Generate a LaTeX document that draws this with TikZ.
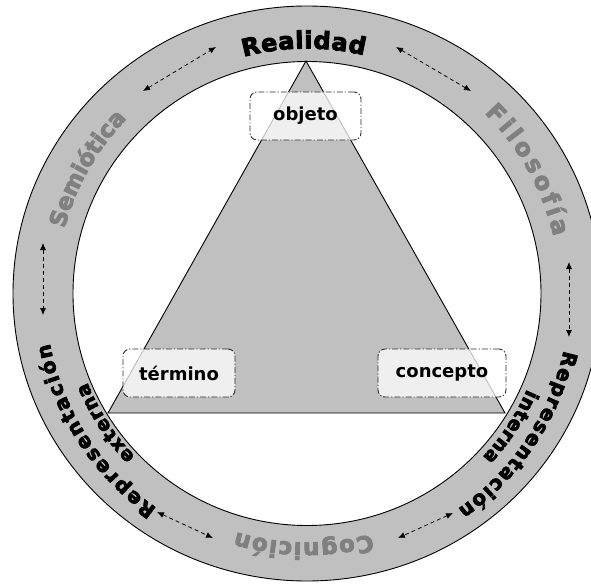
\documentclass[tikz,border=0pt]{standalone}
\usepackage{fontspec}
\setmainfont{DejaVu Sans}
\newfontfamily\heavyfont{DejaVu Sans}[BoldFeatures={FakeBold=3.5}]
\usetikzlibrary{arrows.meta,decorations.text}
\definecolor{ringgray}{RGB}{192,192,192}
\definecolor{labelgray}{RGB}{128,128,128}
\definecolor{boxline}{RGB}{45,45,45}
\newcommand{\ringfont}[1]{\heavyfont\bfseries\fontsize{#1}{#1}\selectfont}

\begin{document}
\begin{tikzpicture}[x=1pt,y=1pt,
  termbox/.style={draw=boxline,line width=0.9pt,dash pattern=on 6pt off 2pt on 1.2pt off 2pt,
    rounded corners=7pt,fill=white,fill opacity=0.75,text opacity=1,minimum height=48pt,
    font=\bfseries\fontsize{18}{18}\selectfont},
  dblarrow/.style={{Latex[length=7pt,width=6pt]}-{Latex[length=7pt,width=6pt]},
    dash pattern=on 4pt off 3pt,line width=0.8pt},
  ringtext/.style={decorate,decoration={text along path,text align=fit to path,text={#1}}}]
  \useasboundingbox[fill=white] (-307,-290.5) rectangle (284,293.5);
  \clip (-307,-290.5) rectangle (284,293.5);

  % ring
  \fill[ringgray,even odd rule] (0,0) ellipse [x radius=294,y radius=287.5]
    (0,0) ellipse [x radius=234,y radius=232];
  \draw[line width=0.9pt] (0,0) ellipse [x radius=294,y radius=287.5];
  \draw[line width=0.9pt] (0,0) ellipse [x radius=234,y radius=232];

  % triangle
  \coordinate (apex) at (-1,232.5);
  \coordinate (left) at (-199,-119.5);
  \coordinate (right) at (198,-119.5);
  \draw[fill=ringgray,line width=0.9pt] (apex) -- (left) -- (right) -- cycle;

  \node[termbox,minimum width=111pt] (objeto) at (-1.5,177.5) {objeto};
  \node[termbox,minimum width=112pt] (termino) at (-128,-79.5) {término};
  \node[termbox,minimum width=128pt] (concepto) at (135,-79.5) {concepto};

  % labels on the ring
  \path[ringtext={|\ringfont{24}|Realidad}] (105:245) arc[start angle=105,end angle=76.5,radius=245];
  \path[ringtext={|\ringfont{24}\color{labelgray}|Filosofía}] (45.5:253) arc[start angle=45.5,end angle=13,radius=253];
  \path[ringtext={|\ringfont{20}|Representación}] (-12.5:263) arc[start angle=-12.5,end angle=-55,radius=263];
  \path[ringtext={|\ringfont{19}|interna}] (-23.5:240) arc[start angle=-23.5,end angle=-43,radius=240];
  \path[ringtext={|\ringfont{23}\color{labelgray}|Cognición}] (-75:249) arc[start angle=-75,end angle=-106.5,radius=249];
  \path[ringtext={|\ringfont{20}|Representación}] (235:262) arc[start angle=235,end angle=191,radius=262];
  \path[ringtext={|\ringfont{19}|externa}] (223.5:237) arc[start angle=223.5,end angle=202,radius=237];
  \path[ringtext={|\ringfont{23}\color{labelgray}|Semiótica}] (165:251) arc[start angle=165,end angle=137,radius=251];

  % arrows between the labels
  \coordinate (a1) at (-164,202.5);
  \coordinate (b1) at (-91,246.5);
  \coordinate (a2) at (89,246.5);
  \coordinate (b2) at (164,202.5);
  \coordinate (a3) at (262,31.5);
  \coordinate (b3) at (262,-43.5);
  \coordinate (a4) at (146,-219.5);
  \coordinate (b4) at (91,-244.5);
  \coordinate (a5) at (-150,-218.5);
  \coordinate (b5) at (-94,-244.5);
  \coordinate (a6) at (-264,50.5);
  \coordinate (b6) at (-264,-21.5);
  \foreach \i in {1,...,6}
    \draw[dblarrow] (a\i) -- (b\i);
\end{tikzpicture}
\end{document}
